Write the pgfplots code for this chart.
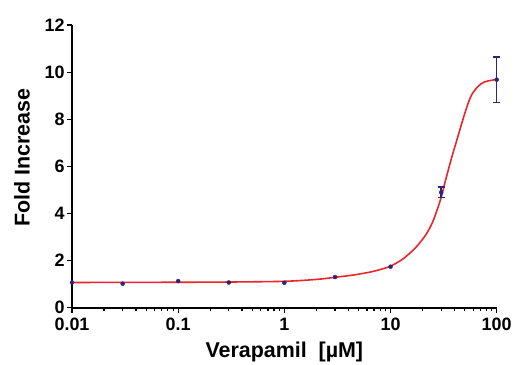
\documentclass[border=0pt]{standalone}
\usepackage{fontspec}
\setmainfont{Liberation Sans}
\usepackage{pgfplots}
\pgfplotsset{compat=1.18}
\definecolor{curvered}{HTML}{E8262B}
\definecolor{navy}{HTML}{2E2378}
\begin{document}
\begin{tikzpicture}
\useasboundingbox (0,0) rectangle (515bp,365bp);
\begin{axis}[
  at={(72bp,57.3bp)}, anchor=south west,
  scale only axis, width=424.7bp, height=282.7bp,
  xmode=log, xmin=0.01, xmax=100, ymin=0, ymax=12,
  axis x line*=bottom, axis y line*=left,
  axis line style={line width=1.6bp, black},
  every tick/.style={black, line width=1.2bp},
  tick align=outside,
  major tick length=5bp, minor tick length=3.5bp,
  xtick={0.01,0.1,1,10,100},
  xticklabels={0.01,0.1,1,10,100},
  ytick={0,2,4,6,8,10,12},
  /pgf/number format/assume math mode=true,
  ticklabel style={font=\bfseries\fontsize{18}{18}\selectfont},
  xticklabel style={yshift=-2bp},
  yticklabel style={xshift=1bp},
  label style={font=\bfseries\fontsize{21.5}{22}\selectfont},
  xlabel={Verapamil\ \ [µM]},
  ylabel={Fold Increase},
  xlabel style={at={(axis description cs:0.5,-0.158)}, anchor=center},
  ylabel style={at={(axis description cs:-0.118,0.53)}, anchor=center},
  clip=false,
]
\addplot[only marks, mark=*, mark size=2bp, navy] coordinates {
  (0.01,1.07) (0.03,1.02) (0.1,1.13) (0.3,1.07) (1,1.06) (3,1.30) (10,1.74)
};
\addplot[smooth, tension=0.5, curvered, line width=1.6bp] coordinates {
  (0.01,1.07) (0.03,1.075) (0.1,1.08) (0.3,1.09) (1,1.12) (2,1.2) (3,1.29)
  (4.5,1.39) (6.4,1.51) (8,1.62) (9.87,1.75) (11.4,1.90) (13.2,2.08)
  (16.4,2.45) (18.9,2.76) (21.9,3.15) (25,3.65) (28.2,4.3)
  (30.3,4.75) (32.5,5.3) (37.6,6.36) (41.9,7.08) (46.7,7.8) (52,8.48)
  (58,9.03) (67,9.40) (77.4,9.59) (100,9.69)
};
\addplot[only marks, mark=*, mark size=2bp, navy,
  error bars/.cd, y dir=both, y explicit,
  error bar style={line width=1.4bp, navy},
  error mark options={rotate=90, mark size=3.5bp, line width=1.4bp, navy}]
  coordinates {
  (30,4.9) +- (0,0.22)
  (100,9.68) +- (0,0.97)
};
\end{axis}
\end{tikzpicture}
\end{document}
